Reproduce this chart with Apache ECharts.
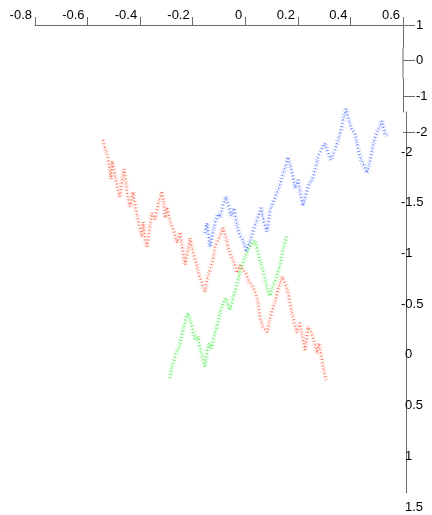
<!DOCTYPE html>
<html>
<head>
<meta charset="utf-8">
<script src="https://cdn.jsdelivr.net/npm/echarts@6/dist/echarts.min.js"></script>
<style>html,body{margin:0;padding:0;background:#fff}#c{width:432px;height:515px}</style>
</head>
<body>
<div id="c"></div>
<script>
// tick labels
var xTicks = [-0.8, -0.6, -0.4, -0.2, 0, 0.2, 0.4, 0.6];
var yTicksUpper = [1, 0, -1, -2];
var yTicksLower = [-2, -1.5, -1, -0.5, 0, 0.5, 1, 1.5];

// series values [x, y] (y on the lower, inverted axis)
var redPoints = [
[-0.541,-2.118],[-0.534,-2.039],[-0.526,-1.980],[-0.518,-1.872],[-0.511,-1.734],[-0.507,-1.911],
[-0.496,-1.773],[-0.484,-1.625],[-0.477,-1.556],[-0.469,-1.724],[-0.461,-1.832],[-0.454,-1.694],
[-0.446,-1.546],[-0.439,-1.458],[-0.427,-1.606],[-0.416,-1.428],[-0.404,-1.280],[-0.393,-1.162],
[-0.389,-1.310],[-0.382,-1.152],[-0.374,-1.063],[-0.366,-1.211],[-0.355,-1.398],[-0.344,-1.329],
[-0.332,-1.477],[-0.317,-1.615],[-0.309,-1.477],[-0.305,-1.349],[-0.298,-1.458],[-0.286,-1.310],
[-0.271,-1.211],[-0.260,-1.103],[-0.248,-1.211],[-0.237,-1.014],[-0.229,-0.886],[-0.218,-1.034],
[-0.210,-1.152],[-0.199,-1.014],[-0.188,-0.915],[-0.176,-0.787],[-0.165,-0.708],[-0.153,-0.619],
[-0.146,-0.738],[-0.134,-0.846],[-0.123,-0.935],[-0.115,-1.063],[-0.104,-1.132],[-0.092,-1.201],
[-0.085,-1.251],[-0.073,-1.152],[-0.066,-1.063],[-0.054,-0.974],[-0.043,-0.915],[-0.032,-0.807],
[-0.020,-0.886],[-0.009,-0.836],[0.003,-0.797],[0.014,-0.718],[0.026,-0.688],[0.037,-0.619],
[0.048,-0.521],[0.056,-0.363],[0.067,-0.274],[0.083,-0.225],[0.094,-0.363],[0.105,-0.462],
[0.113,-0.521],[0.124,-0.639],[0.140,-0.767],[0.151,-0.708],[0.162,-0.619],[0.174,-0.462],
[0.185,-0.324],[0.197,-0.215],[0.208,-0.314],[0.220,-0.146],[0.227,-0.047],[0.239,-0.274],
[0.250,-0.225],[0.261,-0.146],[0.273,-0.018],[0.280,-0.116],[0.292,0.051],[0.299,0.150],[0.307,0.249]
];
var bluePoints = [
[-0.153,-1.201],[-0.146,-1.300],[-0.138,-1.152],[-0.134,-1.063],[-0.123,-1.211],[-0.115,-1.300],
[-0.104,-1.389],[-0.096,-1.359],[-0.085,-1.477],[-0.073,-1.556],[-0.062,-1.458],[-0.054,-1.369],
[-0.043,-1.448],[-0.032,-1.280],[-0.020,-1.172],[-0.009,-1.132],[0.003,-1.014],[0.010,-1.073],
[0.022,-1.152],[0.033,-1.251],[0.045,-1.329],[0.060,-1.448],[0.071,-1.310],[0.083,-1.211],
[0.094,-1.428],[0.105,-1.497],[0.117,-1.576],[0.128,-1.645],[0.143,-1.783],[0.155,-1.872],
[0.162,-1.951],[0.174,-1.842],[0.181,-1.763],[0.189,-1.645],[0.201,-1.724],[0.212,-1.556],
[0.220,-1.467],[0.231,-1.586],[0.242,-1.684],[0.254,-1.724],[0.265,-1.823],[0.277,-1.951],
[0.292,-2.039],[0.303,-2.089],[0.315,-1.990],[0.326,-1.921],[0.341,-2.020],[0.353,-2.118],
[0.364,-2.217],[0.375,-2.345],[0.383,-2.424],[0.394,-2.316],[0.406,-2.217],[0.417,-2.187],
[0.429,-2.039],[0.440,-1.921],[0.452,-1.862],[0.463,-1.793],[0.474,-1.901],[0.486,-2.069],
[0.497,-2.168],[0.509,-2.237],[0.520,-2.306],[0.531,-2.187],[0.543,-2.158]
];
var greenPoints = [
[-0.286,0.229],[-0.279,0.111],[-0.271,0.051],[-0.264,-0.008],[-0.256,-0.047],[-0.248,-0.116],
[-0.237,-0.245],[-0.226,-0.363],[-0.218,-0.412],[-0.210,-0.343],[-0.203,-0.284],[-0.191,-0.146],
[-0.180,-0.176],[-0.172,-0.067],[-0.165,0.002],[-0.153,0.120],[-0.146,-0.028],[-0.138,-0.116],
[-0.131,-0.057],[-0.123,-0.136],[-0.115,-0.215],[-0.104,-0.324],[-0.096,-0.412],[-0.085,-0.511],
[-0.073,-0.560],[-0.066,-0.491],[-0.058,-0.442],[-0.047,-0.560],[-0.035,-0.659],[-0.028,-0.738],
[-0.016,-0.856],[-0.009,-0.915],[-0.001,-0.965],[0.010,-1.034],[0.018,-1.073],[0.029,-1.112],
[0.037,-1.122],[0.048,-1.014],[0.056,-0.935],[0.067,-0.836],[0.079,-0.698],[0.086,-0.639],
[0.094,-0.580],[0.105,-0.688],[0.113,-0.718],[0.124,-0.817],[0.132,-0.886],[0.143,-1.034],
[0.151,-1.112],[0.159,-1.181]
];

var FONT = 'Liberation Sans';
var AXIS = '#6a6a6a';
function fmt(v){ return String(+(+v).toFixed(1)); }

var chart = echarts.init(document.getElementById('c'), null, {renderer:'canvas'});

function lineOnlyY(grid, offset, color, width){
  return {type:'value', gridIndex:grid, position:'right', offset:offset, min:0, max:1,
    axisLine:{show:true, onZero:false, lineStyle:{color:color, width:width}}, axisTick:{show:false},
    axisLabel:{show:false}, splitLine:{show:false}};
}
function hiddenX(grid){
  return {type:'value', gridIndex:grid, min:-0.8, max:0.6, show:false, splitLine:{show:false},
    axisLine:{onZero:false}};
}
function seriesOf(name, data, color, width, dash, opacity){
  return {name:name, type:'line', xAxisIndex:1, yAxisIndex:1, data:data, showSymbol:false,
    clip:false, silent:true, animation:false,
    lineStyle:{color:color, width:width, type:dash, opacity:opacity}};
}

chart.setOption({
  animation:false,
  backgroundColor:'#fff',
  grid:[
    {left:35, right:29, top:25, height:107},
    {left:35, right:29, top:152, height:355},
    {left:35, right:29, top:18, height:94},
    {left:35, right:29, top:112, height:381},
    {left:35, right:29, top:48, height:30}
  ],
  xAxis:[
    {type:'value', gridIndex:0, position:'top', min:xTicks[0], max:xTicks[xTicks.length-1], interval:0.2,
      axisLine:{show:true, onZero:false, lineStyle:{color:AXIS, width:1}},
      axisTick:{show:true, length:8, lineStyle:{color:AXIS}},
      axisLabel:{show:true, margin:3, align:'right', padding:[0,3,0,0], color:'#000', fontFamily:FONT, fontSize:13,
        formatter:fmt},
      splitLine:{show:false}},
    hiddenX(1), hiddenX(2), hiddenX(3), hiddenX(4)
  ],
  yAxis:[
    {type:'value', gridIndex:0, position:'right', min:yTicksUpper[3], max:yTicksUpper[0], interval:1,
      axisLine:{show:false, onZero:false},
      axisTick:{show:true, length:12, lineStyle:{color:AXIS}},
      axisLabel:{show:true, margin:13, padding:[16,0,0,0], color:'#000', fontFamily:FONT, fontSize:13,
        formatter:fmt},
      splitLine:{show:false}},
    {type:'value', gridIndex:1, position:'right', inverse:true,
      min:yTicksLower[0], max:yTicksLower[yTicksLower.length-1], interval:0.5,
      axisLine:{show:false, onZero:false}, axisTick:{show:false},
      axisLabel:{show:true, margin:-2, color:'#000', fontFamily:FONT, fontSize:13,
        formatter:function(v){ return v < 0 ? fmt(v) : ''; }},
      splitLine:{show:false}},
    {type:'value', gridIndex:1, position:'right', inverse:true,
      min:yTicksLower[0], max:yTicksLower[yTicksLower.length-1], interval:0.5,
      axisLine:{show:false, onZero:false}, axisTick:{show:false},
      axisLabel:{show:true, margin:2, color:'#000', fontFamily:FONT, fontSize:13,
        formatter:function(v){ return v >= 0 ? fmt(v) : ''; }},
      splitLine:{show:false}},
    lineOnlyY(2, 0, AXIS, 1),
    lineOnlyY(3, 3, AXIS, 1),
    lineOnlyY(4, 0, '#b4b4b4', 2)
  ],
  series:[
    seriesOf('red', redPoints, '#ff6a50', 5, [1, 2], 0.35),
    seriesOf('blue', bluePoints, '#5a78ff', 5, [1, 2], 0.35),
    seriesOf('green', greenPoints, '#50f050', 5, [1, 2], 0.4),
    seriesOf('red-core', redPoints, '#ff4a2a', 1.5, [1, 2.5], 0.8),
    seriesOf('blue-core', bluePoints, '#3a5cff', 1.5, [1, 2.5], 0.8),
    seriesOf('green-core', greenPoints, '#2ee82e', 1.5, [1, 2.5], 0.8)
  ]
});
</script>
</body>
</html>
